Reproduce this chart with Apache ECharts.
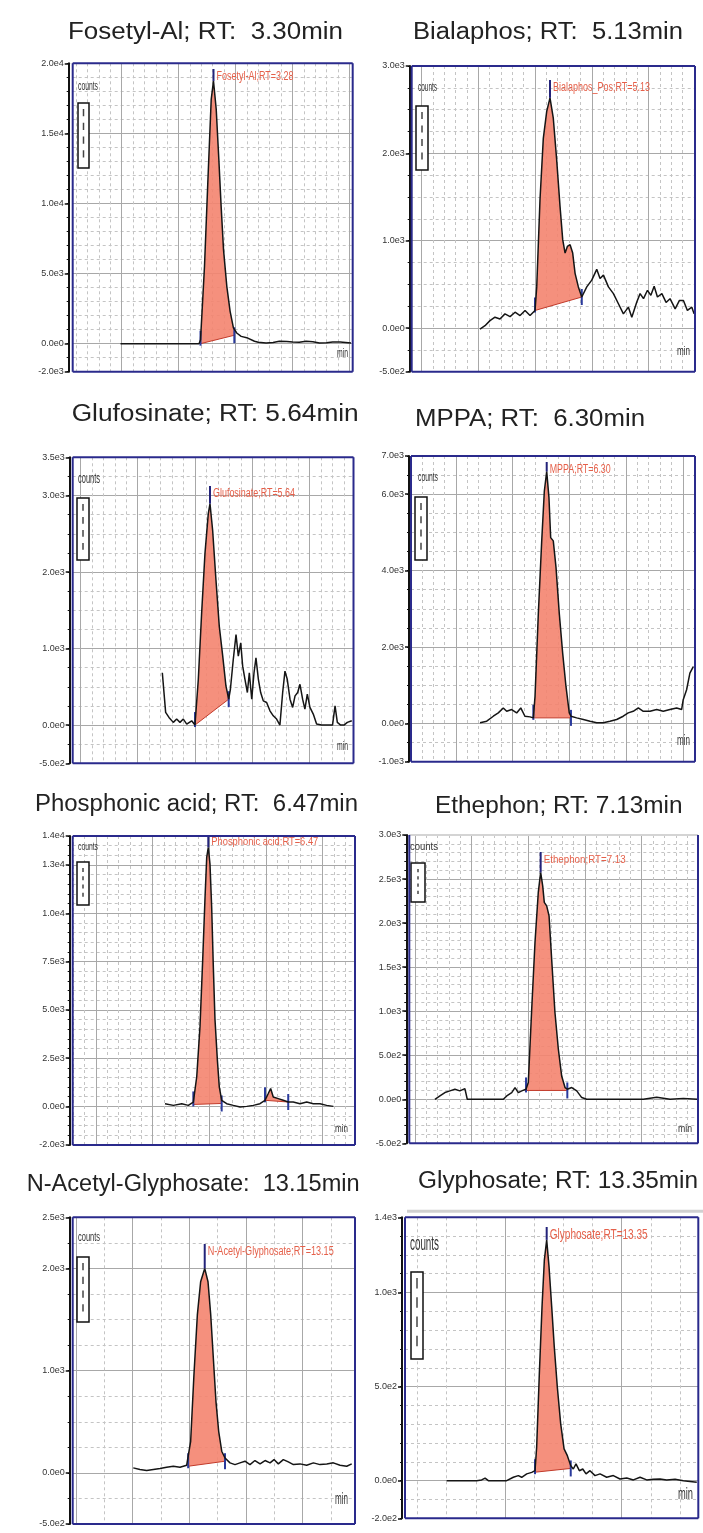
<!DOCTYPE html>
<html><head><meta charset="utf-8">
<script src="https://cdn.jsdelivr.net/npm/echarts@6/dist/echarts.min.js"></script>
<style>html,body{margin:0;padding:0;background:#fff}#c{width:703px;height:1533px}</style>
</head><body><div id="c"></div>
<script>
// ---------------- DATA ----------------
const panelTitles = ["Fosetyl-Al; RT:  3.30min","Bialaphos; RT:  5.13min","Glufosinate; RT: 5.64min","MPPA; RT:  6.30min",
  "Phosphonic acid; RT:  6.47min","Ethephon; RT: 7.13min","N-Acetyl-Glyphosate:  13.15min","Glyphosate; RT: 13.35min"];
const peakLabels = ["Fosetyl-Al;RT=3.28","Bialaphos_Pos;RT=5.13","Glufosinate;RT=5.64","MPPA;RT=6.30",
  "Phosphonic acid;RT=6.47","Ethephon;RT=7.13","N-Acetyl-Glyphosate;RT=13.15","Glyphosate;RT=13.35"];

const fosetylTime   = [2.49,3.18,3.193,3.228,3.257,3.287,3.307,3.331,3.354,3.374,3.395,3.424,3.453,3.482,3.511,3.55,3.608,3.667,3.70,3.769,3.83,3.886,3.95,4.003,4.06,4.12,4.18,4.237,4.30,4.354,4.42,4.515];
const fosetylCounts = [0,0,284,5520,11480,17430,18740,16710,13140,9810,6710,4090,2310,1120,760,520,400,170,100,50,80,170,150,120,100,170,140,50,60,120,110,50];

const bialaphosTime   = [4.515,4.559,4.603,4.647,4.691,4.735,4.78,4.824,4.868,4.912,4.956,5.0,5.015,5.044,5.073,5.103,5.132,5.161,5.19,5.22,5.244,5.265,5.285,5.309,5.332,5.353,5.382,5.412,5.456,5.5,5.544,5.573,5.603,5.647,5.691,5.735,5.779,5.823,5.853,5.897,5.926,5.956,5.991,6.021,6.05,6.079,6.118,6.155,6.19,6.235,6.273,6.308,6.343,6.382,6.402];
const bialaphosCounts = [-12,27,85,124,104,162,131,181,143,201,143,201,471,1475,2171,2480,2635,2402,1939,1398,1012,858,934,954,858,626,471,355,471,548,672,568,606,471,394,278,162,239,124,297,394,336,432,374,479,355,394,293,336,220,316,316,201,239,162];

const glufosinateTime   = [5.215,5.244,5.273,5.311,5.34,5.369,5.398,5.428,5.471,5.5,5.529,5.558,5.587,5.616,5.631,5.654,5.683,5.712,5.742,5.77,5.794,5.809,5.834,5.858,5.878,5.899,5.916,5.936,5.957,5.974,5.995,6.015,6.032,6.053,6.073,6.096,6.125,6.154,6.183,6.212,6.241,6.265,6.285,6.305,6.329,6.352,6.373,6.396,6.416,6.439,6.459,6.48,6.503,6.532,6.561,6.605,6.663,6.7,6.722,6.742,6.771,6.8,6.829,6.868];
const glufosinateCounts = [684,165,100,35,78,35,78,13,56,0,598,1464,2243,2763,2893,2546,1897,1290,900,511,338,468,857,1182,900,1074,770,598,425,684,338,684,879,598,425,316,295,186,121,78,0,425,705,598,338,230,381,425,533,338,208,403,230,143,13,0,0,0,251,35,0,0,35,56];

const mppaTime   = [5.712,5.771,5.829,5.873,5.917,5.947,5.991,6.035,6.071,6.108,6.153,6.182,6.197,6.226,6.256,6.279,6.3,6.32,6.335,6.358,6.382,6.411,6.441,6.47,6.499,6.514,6.564,6.623,6.682,6.741,6.799,6.858,6.917,6.975,7.019,7.063,7.108,7.152,7.211,7.27,7.328,7.387,7.446,7.49,7.504,7.534,7.563,7.593];
const mppaCounts = [18,60,190,277,407,320,364,277,407,190,173,147,710,2874,4778,6077,6596,5903,4864,4778,4085,2874,1836,969,277,190,147,104,60,18,18,60,104,190,277,320,407,320,320,364,320,364,407,364,623,883,1316,1489];

const phosphonicTime   = [6.109,6.183,6.257,6.315,6.359,6.389,6.418,6.442,6.462,6.477,6.491,6.506,6.521,6.535,6.55,6.571,6.588,6.609,6.653,6.712,6.771,6.83,6.888,6.947,6.991,7.02,7.041,7.064,7.108,7.152,7.196,7.24,7.3,7.359,7.417,7.476,7.535,7.594];
const phosphonicCounts = [141,52,141,52,225,1535,4155,7650,10794,12890,13414,12540,10270,7300,4506,2410,1011,314,141,52,-35,0,52,141,314,665,927,487,403,314,225,225,141,225,141,141,52,0];

const ethephonTime   = [6.177,6.221,6.265,6.309,6.353,6.397,6.441,6.462,6.545,6.662,6.78,6.81,6.854,6.883,6.912,6.942,6.98,7.0,7.03,7.059,7.088,7.109,7.127,7.141,7.162,7.183,7.206,7.235,7.265,7.294,7.324,7.344,7.383,7.427,7.471,7.515,7.661,7.838,8.014,8.132,8.25,8.367,8.49];
const ethephonCounts = [0,38,76,95,114,95,121,0,0,0,0,38,76,133,76,95,114,189,1022,1780,2348,2575,2423,2235,2196,2082,1590,985,568,265,133,114,133,95,19,0,0,0,0,23,0,10,0];

const acetylTime   = [12.506,12.565,12.624,12.683,12.742,12.8,12.859,12.918,12.977,13.012,13.041,13.071,13.1,13.136,13.165,13.189,13.212,13.235,13.259,13.286,13.315,13.359,13.403,13.447,13.491,13.535,13.579,13.624,13.668,13.712,13.747,13.785,13.829,13.873,13.918,13.976,14.035,14.094,14.153,14.212,14.27,14.329,14.388,14.432];
const acetylCounts = [49,33,23,33,43,56,65,56,75,309,960,1545,1870,2000,1870,1545,1122,700,407,212,146,98,81,98,114,81,121,88,121,98,130,88,130,107,81,88,75,98,81,88,98,75,65,88];

const glyphosateTime   = [12.5,12.614,12.757,12.8,12.829,12.857,12.929,13.014,13.071,13.114,13.143,13.186,13.229,13.257,13.271,13.294,13.317,13.337,13.357,13.377,13.4,13.422,13.448,13.477,13.506,13.534,13.563,13.585,13.608,13.637,13.666,13.694,13.728,13.771,13.814,13.871,13.928,13.985,14.043,14.1,14.157,14.214,14.271,14.328,14.385,14.457,14.528,14.643];
const glyphosateCounts = [0,0,0,4,14,0,0,0,18,27,18,36,44,53,178,569,924,1173,1280,1138,924,711,498,302,169,133,80,62,89,53,62,36,53,27,36,18,27,9,14,4,18,4,7,9,4,7,0,-9];

// integration regions: [start min, end min, baseline counts at start, baseline counts at end]
const fosetylPeak     = [[3.193,3.49,0,600]];
const bialaphosPeak   = [[5.0,5.412,201,355]];
const glufosinatePeak = [[5.5,5.794,0,338]];
const mppaPeak        = [[6.182,6.514,147,147]];
const phosphonicPeak  = [[6.359,6.609,100,150],[6.991,7.196,314,225]];
const ethephonPeak    = [[6.98,7.344,100,100]];
const acetylPeak      = [[12.99,13.315,65,114]];
const glyphosatePeak  = [[13.257,13.563,45,65]];

// axis ranges
const xMin   = [2.07,3.913,4.433,5.103,5.295,5.951,11.972,12.143];
const xMax   = [4.53,6.41,6.883,7.608,7.785,8.496,14.461,14.656];
const xMajor = [0.5,0.5,0.5,0.5,0.5,0.5,0.5,1];
const xMinor = [0.1,0.1,0.1,0.1,0.1,0.1,0.25,0.25];
const yMin   = [-2000,-500,-500,-1000,-2000,-500,-500,-200];
const yMax   = [20000,3000,3500,7000,14000,3000,2500,1400];
const yMajor = [5000,1000,1000,2000,2500,500,1000,500];
const yMinor = [1000,250,250,500,500,100,250,100];

const traces = [
  [fosetylTime,fosetylCounts,fosetylPeak],[bialaphosTime,bialaphosCounts,bialaphosPeak],
  [glufosinateTime,glufosinateCounts,glufosinatePeak],[mppaTime,mppaCounts,mppaPeak],
  [phosphonicTime,phosphonicCounts,phosphonicPeak],[ethephonTime,ethephonCounts,ethephonPeak],
  [acetylTime,acetylCounts,acetylPeak],[glyphosateTime,glyphosateCounts,glyphosatePeak]
];

// ---------------- LAYOUT (pixels) ----------------
const panels = [
 {L:72.7,T:63.3,R:352.7,B:371.7,yOff:4, tx:68,  ty:33,  tw:275, labY:77,  labW:77,  labFs:12, cnt:[88,86.5,20,11],   box:[78,103,11,65],  mn:[342.5,354,11,10]},
 {L:411.7,T:66,R:695,B:371.7,yOff:2,    tx:413, ty:33,  tw:270, labY:88,  labW:97,  labFs:12, cnt:[427.5,87.5,19,11], box:[416,106,12,64], mn:[683.5,352,13,10]},
 {L:72.7,T:457.3,R:353.5,B:763.3,yOff:3,tx:71.7,ty:415, tw:287, labY:494, labW:82,  labFs:12, cnt:[89,479,22,12],    box:[77,498,12,62],  mn:[342.5,747,11,10]},
 {L:411,T:456,R:695,B:761.7,yOff:2,     tx:415, ty:420, tw:230, labY:470, labW:61,  labFs:12, cnt:[428,477.5,20,11],  box:[415,497,12,63], mn:[683.5,741,13,12]},
 {L:72.7,T:836,R:355,B:1145,yOff:3,     tx:35,  ty:805, tw:323, labY:842, labW:107, labFs:11, cnt:[88,847.5,20,9],    box:[77,862,12,43],  mn:[341.5,1129,13,8]},
 {L:409.3,T:835,R:698,B:1143.3,yOff:3,  tx:435, ty:807, tw:null,labY:860, labW:82,  labFs:10, cnt:[424,847.5,28,9],   box:[411,863,14,39], mn:[685,1129,14,8], topColor:'#d4d4d4'},
 {L:72.7,T:1217.3,R:355,B:1524,yOff:3,  tx:26.7,ty:1185,tw:333, labY:1252,labW:126, labFs:12, cnt:[89,1237.5,22,11],  box:[77,1257,12,65], mn:[341.5,1500,13,13]},
 {L:405,T:1217.3,R:698.3,B:1518.3,yOff:3,tx:418,ty:1182,tw:null,labY:1235,labW:98,  labFs:15, cnt:[424.5,1244,29,17], box:[411,1272,12,87], mn:[685.5,1494.5,15,14], topBar:true}
];

const mctx = document.createElement('canvas').getContext('2d');
function textW(t, font){ mctx.font = font; return mctx.measureText(t).width; }
function interp(ts, cs, t){
  for (let k=1;k<ts.length;k++){ if (ts[k]>=t){ const f=(t-ts[k-1])/(ts[k]-ts[k-1]); return cs[k-1]+f*(cs[k]-cs[k-1]); } }
  return cs[cs.length-1];
}
const fmt = v => Number(v).toExponential(1).replace('+','');
const NAVY = '#2a2a8c', FILL = '#f4846f', RED = '#e5604a';
const FONT = '"Liberation Sans", Arial, sans-serif';

const grids=[], xAxes=[], yAxes=[], series=[], graphics=[];
panels.forEach((p,i)=>{
  grids.push({left:p.L, top:p.T, width:p.R-p.L, height:p.B-p.T, show:true, borderWidth:0, backgroundColor:'#fff'});
  // minor axes (index 2i), major (2i+1)
  xAxes.push({type:'value', gridIndex:i, min:xMin[i], max:xMax[i], minInterval:xMinor[i], maxInterval:xMinor[i],
    axisLine:{show:false}, axisTick:{show:false}, axisLabel:{show:false},
    splitLine:{show:true, lineStyle:{color:'#c4c4c4', width:1, type:[3,3]}}});
  xAxes.push({type:'value', gridIndex:i, min:xMin[i], max:xMax[i], minInterval:xMajor[i], maxInterval:xMajor[i],
    axisLine:{show:false}, axisTick:{show:false}, axisLabel:{show:false},
    splitLine:{show:true, lineStyle:{color:'#a8a8a8', width:1}}});
  yAxes.push({type:'value', gridIndex:i, position:'left', offset:p.yOff, min:yMin[i], max:yMax[i], minInterval:yMinor[i], maxInterval:yMinor[i],
    axisLine:{show:false}, axisTick:{show:true, length:2, lineStyle:{color:'#111', width:1}}, axisLabel:{show:false},
    splitLine:{show:true, lineStyle:{color:'#c4c4c4', width:1, type:[3,3]}}});
  yAxes.push({type:'value', gridIndex:i, position:'left', offset:p.yOff, min:yMin[i], max:yMax[i], minInterval:yMajor[i], maxInterval:yMajor[i],
    axisLine:{show:true, onZero:false, lineStyle:{color:'#111', width:2}},
    axisTick:{show:true, length:4, lineStyle:{color:'#111', width:1.5}},
    axisLabel:{show:true, margin:5, fontSize:9, color:'#333', fontFamily:'"Liberation Sans Narrow", "Liberation Sans", Arial', formatter:fmt},
    splitLine:{show:true, lineStyle:{color:'#a8a8a8', width:1}}});

  const [ts, cs, regions] = traces[i];
  const xi = 2*i+1, yi = 2*i+1;
  series.push({type:'custom', xAxisIndex:xi, yAxisIndex:yi, z:3, silent:true, data:regions,
    renderItem:(params, api)=>{
      const t0=api.value(0), t1=api.value(1), b0=api.value(2), b1=api.value(3);
      const p0=api.coord([t0,b0]), p1=api.coord([t1,b1]);
      const pts=[p0, api.coord([t0, interp(ts,cs,t0)])];
      for (let k=0;k<ts.length;k++) if (ts[k]>t0 && ts[k]<t1) pts.push(api.coord([ts[k],cs[k]]));
      pts.push(api.coord([t1, interp(ts,cs,t1)])); pts.push(p1);
      return {type:'group', children:[
        {type:'polygon', shape:{points:pts}, style:{fill:FILL, opacity:0.9}},
        {type:'line', shape:{x1:p0[0],y1:p0[1],x2:p1[0],y2:p1[1]}, style:{stroke:'#c23a2a', lineWidth:1}},
        {type:'line', shape:{x1:p0[0],y1:p0[1]-13,x2:p0[0],y2:p0[1]+2}, style:{stroke:'#2a3a9c', lineWidth:2}},
        {type:'line', shape:{x1:p1[0],y1:p1[1]-8,x2:p1[0],y2:p1[1]+8}, style:{stroke:'#2a3a9c', lineWidth:2}}
      ]};
    }});
  series.push({type:'line', xAxisIndex:xi, yAxisIndex:yi, z:5, silent:true, symbol:'none', animation:false,
    data: ts.map((t,k)=>[t,cs[k]]), lineStyle:{color:'#151515', width:1.5}});
  // apex from data
  const r0 = regions[0]; let best=-1, bt=0;
  ts.forEach((t,k)=>{ if (t>=r0[0] && t<=r0[1] && cs[k]>best){best=cs[k]; bt=t;} });
  const labFont = p.labFs+'px '+FONT;
  const labScale = p.labW / textW(peakLabels[i], labFont);
  series.push({type:'custom', xAxisIndex:xi, yAxisIndex:yi, z:6, silent:true, data:[[bt,best]],
    renderItem:(params, api)=>{
      const a = api.coord([api.value(0), api.value(1)]);
      const yTop = Math.max(p.T+1, Math.min(p.labY-8, a[1]-6));
      return {type:'group', children:[
        {type:'line', shape:{x1:a[0],y1:yTop,x2:a[0],y2:a[1]}, style:{stroke:'#23237a', lineWidth:2}},
        {type:'text', x:a[0]+3, y:p.labY, scaleX:labScale, style:{text:peakLabels[i], font:labFont, fill:RED, align:'left', verticalAlign:'middle'}}
      ]};
    }});

  // plot frame (drawn above the grid lines)
  const fr = {z:20, silent:true};
  graphics.push(Object.assign({type:'line', shape:{x1:p.L,y1:p.T,x2:p.R,y2:p.T}, style:{stroke:p.topColor||NAVY, lineWidth:2}}, fr));
  graphics.push(Object.assign({type:'line', shape:{x1:p.L,y1:p.B,x2:p.R,y2:p.B}, style:{stroke:NAVY, lineWidth:2}}, fr));
  graphics.push(Object.assign({type:'line', shape:{x1:p.L,y1:p.T,x2:p.L,y2:p.B}, style:{stroke:NAVY, lineWidth:2}}, fr));
  graphics.push(Object.assign({type:'line', shape:{x1:p.R,y1:p.T,x2:p.R,y2:p.B}, style:{stroke:NAVY, lineWidth:2}}, fr));
  if (p.topBar) graphics.push({type:'line', z:20, shape:{x1:p.L+2,y1:p.T-6,x2:703,y2:p.T-6}, style:{stroke:'#d0d0d0', lineWidth:3}});

  // title
  const tFont = '23px '+FONT;
  const tScale = p.tw ? p.tw / textW(panelTitles[i], tFont) : 1.06;
  graphics.push({type:'text', x:p.tx, y:p.ty, scaleX:tScale, z:10, style:{text:panelTitles[i], font:tFont, fill:'#222', align:'left', verticalAlign:'middle'}});
  // counts label
  const cf = Math.round(p.cnt[3]*1.15)+'px '+FONT;
  graphics.push({type:'text', x:p.cnt[0]-p.cnt[2]/2, y:p.cnt[1], scaleX:p.cnt[2]/textW('counts',cf), z:10,
    style:{text:'counts', font:cf, fill:'#333', align:'left', verticalAlign:'middle'}});
  // min label
  const mf = Math.round(p.mn[3]*1.2)+'px '+FONT;
  graphics.push({type:'text', x:p.mn[0]-p.mn[2]/2, y:p.mn[1], scaleX:p.mn[2]/textW('min',mf), z:10,
    style:{text:'min', font:mf, fill:'#333', align:'left', verticalAlign:'middle'}});
  // legend box
  const b = p.box;
  graphics.push({type:'rect', z:10, shape:{x:b[0],y:b[1],width:b[2],height:b[3]}, style:{fill:'#fff', stroke:'#111', lineWidth:1.5}});
  for (let s=0;s<4;s++){
    const seg = (b[3]-10)/4;
    graphics.push({type:'line', z:11, shape:{x1:b[0]+b[2]/2, y1:b[1]+5+s*seg+1, x2:b[0]+b[2]/2, y2:b[1]+5+s*seg+seg*0.6}, style:{stroke:'#444', lineWidth:1.5}});
  }
});

const chart = echarts.init(document.getElementById('c'), null, {renderer:'canvas'});
chart.setOption({animation:false, backgroundColor:'#fff', grid:grids, xAxis:xAxes, yAxis:yAxes, series, graphic:{elements:graphics}});
</script>
</body></html>
